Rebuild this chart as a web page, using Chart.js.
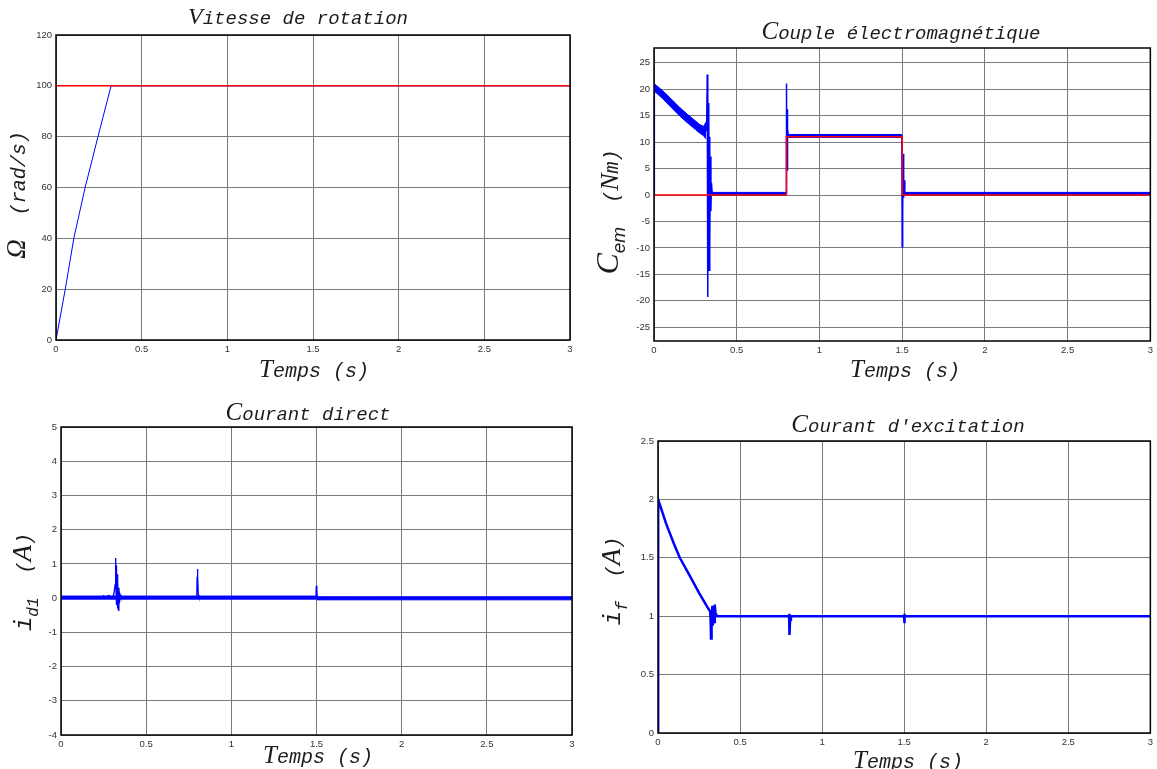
<!DOCTYPE html>
<html>
<head>
<meta charset="utf-8">
<script src="https://cdn.jsdelivr.net/npm/chart.js@4.4.1/dist/chart.umd.min.js"></script>
<style>
  html, body { margin: 0; padding: 0; background: #fff; }
  #wrap { position: relative; width: 1157px; height: 769px; overflow: hidden; background: #fff; }
  #wrap canvas { position: absolute; }
</style>
</head>
<body>
<div id="wrap">
  <canvas id="cSpeed"  width="580" height="385" style="left:0;top:0"></canvas>
  <canvas id="cTorque" width="577" height="385" style="left:580px;top:0"></canvas>
  <canvas id="cId"     width="580" height="384" style="left:0;top:385px"></canvas>
  <canvas id="cIf"     width="577" height="384" style="left:580px;top:385px"></canvas>
</div>
<script>
// ---- Simulation traces (time in s) ----
const timeTickStep = 0.5;

// Rotor speed and its reference (rad/s)
const speedTime      = [0, 0.054, 0.104, 0.17, 0.245, 0.32, 0.33, 3];
const speedValues    = [0, 20, 40, 60, 80, 99.6, 100, 100];
const speedRefTime   = [0, 3];
const speedRefValues = [100, 100];

// Electromagnetic torque (Nm): transient trace, ripple envelopes, load reference
const torqueTime   = [0, 0.001, 0.003, 0.315, 0.318, 0.322, 0.324, 0.326, 0.328, 0.331,
                      0.333, 0.336, 0.338, 0.341, 0.344, 0.347, 0.352, 0.798, 0.800, 0.802,
                      0.804, 0.806, 0.808, 0.812, 1.498, 1.500, 1.503, 1.506, 1.509, 1.512,
                      1.516, 3];
const torqueValues = [0, 21, 20.3, 12.2, 12.5, 22.8, 10, -19.3, 16.0, 17.4,
                      -14.2, 11, -8.8, 7.3, -3, 2.3, 0.3, 0.3, 21.1, 9,
                      16.2, 4.6, 12.5, 11.2, 11.2, -9.8, -3, 7.8, -0.5, 2.8,
                      0.3, 0.3];
const torqueBandTime  = [0.003, 0.05, 0.1, 0.157, 0.2, 0.25, 0.277, 0.3, 0.315, null, 0.352, 0.798, null, 0.812, 1.498, null, 1.516, 3];
const torqueBandUpper = [21.0, 19.8, 18.3, 16.5, 15.3, 14.0, 13.3, 13.0, 13.8, null, 0.5, 0.5, null, 11.45, 11.45, null, 0.5, 0.5];
const torqueBandLower = [19.6, 18.3, 16.7, 14.9, 13.7, 12.4, 11.7, 11.2, 10.6, null, 0.05, 0.05, null, 10.9, 10.9, null, 0.05, 0.05];
const torqueRefTime   = [0, 0.8, 0.8, 1.5, 1.5, 3];
const torqueRefValues = [0, 0, 11, 11, 0, 0];

// Direct-axis current (A)
const idTime   = [0, 0.24, 0.25, 0.26, 0.28, 0.3, 0.31, 0.318, 0.321, 0.323,
                  0.325, 0.327, 0.329, 0.331, 0.334, 0.337, 0.34, 0.343, 0.347, 0.352,
                  0.797, 0.799, 0.801, 0.803, 0.806, 0.81, 1.497, 1.499, 1.502, 1.505, 3];
const idValues = [0.02, 0.02, 0.07, 0.02, 0.08, 0.03, 0.1, 0.4, 1.17, 0.2,
                  0.95, -0.2, 0.7, -0.3, 0.55, -0.35, 0.3, -0.15, 0.1, 0.02,
                  0.02, 0.6, 0.85, 0.7, 0.1, 0.03, 0.03, 0.36, 0.25, -0.02, -0.01];
const idBandTime  = [0, 1.5, null, 1.5, 3];
const idBandUpper = [0.06, 0.06, null, 0.04, 0.04];
const idBandLower = [-0.03, -0.03, null, -0.05, -0.05];

// Field (excitation) current (A)
const ifTime   = [0, 0.001, 0.05, 0.1, 0.133, 0.2, 0.25, 0.3, 0.318, 0.321,
                  0.323, 0.325, 0.328, 0.331, 0.334, 0.338, 0.342, 0.346, 0.35, 0.36,
                  0.799, 0.800, 0.802, 0.805, 0.81, 1.499, 1.5, 1.502, 1.505, 3];
const ifValues = [0, 2.0, 1.79, 1.61, 1.5, 1.33, 1.2, 1.08, 1.04, 0.95,
                  0.81, 1.05, 0.9, 1.09, 0.92, 1.06, 0.95, 1.1, 1.03, 1.0,
                  1.0, 1.02, 0.84, 0.97, 1.0, 1.0, 1.02, 0.94, 1.0, 1.0];

// ---- Styling ----
const BLUE = '#0000ff';
const RED = '#ff0000';
const GRID = '#7a7a7a';
const INK = '#1c1c1c';
const MONO = '"Liberation Mono", "DejaVu Sans Mono", monospace';
const SERIF = '"Liberation Serif", "DejaVu Serif", serif';
const SANS = '"Liberation Sans", Arial, sans-serif';

const pts = (xs, ys) => xs.map((x, i) => ({ x, y: ys[i] }));
// Plain numeric tick text: 1 instead of 1.0
const tickText = v => String(Math.round(v * 100) / 100);

// Split envelope arrays at null separators into upper/lower point runs
function bandRuns(ts, up, lo) {
  const runs = [];
  let cur = { upper: [], lower: [] };
  ts.forEach((t, i) => {
    if (t === null) { if (cur.upper.length) runs.push(cur); cur = { upper: [], lower: [] }; return; }
    cur.upper.push({ x: t, y: up[i] });
    cur.lower.push({ x: t, y: lo[i] });
  });
  if (cur.upper.length) runs.push(cur);
  return runs;
}

// Mixed-font text run, optionally rotated for vertical axis labels
function drawRich(ctx, segs, x, y, rotate) {
  ctx.save();
  ctx.translate(x, y);
  if (rotate) ctx.rotate(-Math.PI / 2);
  ctx.textBaseline = 'alphabetic';
  ctx.textAlign = 'left';
  let total = 0;
  const widths = segs.map(s => { ctx.font = s.font; const w = ctx.measureText(s.text).width; total += w; return w; });
  let cx = -total / 2;
  segs.forEach((s, i) => {
    ctx.font = s.font;
    ctx.fillStyle = INK;
    ctx.fillText(s.text, cx, s.dy || 0);
    cx += widths[i];
  });
  ctx.restore();
}

const panelText = {
  id: 'panelText',
  afterDraw(chart, args, opts) {
    const ctx = chart.ctx;
    const a = chart.chartArea;
    ctx.save();
    ctx.strokeStyle = '#000';
    ctx.lineWidth = 1.5;
    ctx.strokeRect(a.left, a.top, a.right - a.left, a.bottom - a.top);
    ctx.restore();
    if (opts.title) drawRich(ctx, opts.title.segs, opts.title.x, opts.title.y, false);
    if (opts.xlabel) drawRich(ctx, opts.xlabel.segs, opts.xlabel.x, opts.xlabel.y, false);
    if (opts.ylabel) drawRich(ctx, opts.ylabel.segs, opts.ylabel.x, opts.ylabel.y, true);
  }
};

const seg = (text, font, dy) => ({ text, font, dy });
const tempsLabel = [seg('T', `italic 25px ${SERIF}`), seg('emps (s)', `italic 20px ${MONO}`)];

function panel(id, cfg) {
  const datasets = [];
  (cfg.bands || []).forEach(b => {
    datasets.push({ data: b.upper, borderColor: BLUE, backgroundColor: BLUE, borderWidth: 1, fill: '+1', pointRadius: 0, order: 3 });
    datasets.push({ data: b.lower, borderColor: BLUE, borderWidth: 1, fill: false, pointRadius: 0, order: 3 });
  });
  cfg.lines.forEach(l => datasets.push({ data: l.data, borderColor: l.color, borderWidth: l.width, fill: false, pointRadius: 0, order: l.order }));

  const tickFont = { family: SANS, size: 9.5 };
  const { left, top, right, bottom } = cfg.area;
  new Chart(document.getElementById(id), {
    type: 'line',
    data: { datasets },
    options: {
      responsive: false,
      animation: false,
      devicePixelRatio: 1,
      events: [],
      layout: { padding: { left: 0, top, right, bottom: 0 } },
      elements: { line: { tension: 0 } },
      plugins: { legend: { display: false }, tooltip: { enabled: false }, panelText: cfg.text },
      scales: {
        x: {
          type: 'linear', min: 0, max: 3,
          afterFit: s => { s.height = bottom; },
          ticks: { stepSize: timeTickStep, padding: 4, font: tickFont, color: '#333', maxRotation: 0, autoSkip: false, callback: tickText },
          grid: { color: GRID, lineWidth: 1, drawTicks: false },
          border: { display: false }
        },
        y: {
          type: 'linear', min: cfg.yMin, max: cfg.yMax,
          afterFit: s => { s.width = left; },
          ticks: { stepSize: cfg.yStep, padding: 4, includeBounds: false, font: tickFont, color: '#333', autoSkip: false, callback: tickText },
          grid: { color: GRID, lineWidth: 1, drawTicks: false },
          border: { display: false }
        }
      }
    },
    plugins: [panelText]
  });
}

panel('cSpeed', {
  area: { left: 56, top: 35, right: 10, bottom: 45 },
  yMin: 0, yMax: 120, yStep: 20,
  lines: [
    { data: pts(speedTime, speedValues), color: BLUE, width: 1, order: 2 },
    { data: pts(speedRefTime, speedRefValues), color: RED, width: 1.5, order: 1 }
  ],
  text: {
    title: { x: 298, y: 24, segs: [seg('V', `italic 24px ${SERIF}`), seg('itesse de rotation', `italic 19px ${MONO}`)] },
    xlabel: { x: 314, y: 377, segs: tempsLabel },
    ylabel: { x: 25, y: 195, segs: [seg('Ω', `italic 27px ${SERIF}`), seg('  (rad/s)', `italic 20px ${MONO}`)] }
  }
});

panel('cTorque', {
  area: { left: 74, top: 48, right: 5, bottom: 44 },
  yMin: -27.6, yMax: 27.8, yStep: 5,
  bands: bandRuns(torqueBandTime, torqueBandUpper, torqueBandLower),
  lines: [
    { data: pts(torqueTime, torqueValues), color: BLUE, width: 1.5, order: 2 },
    { data: pts(torqueRefTime, torqueRefValues), color: RED, width: 1.5, order: 1 }
  ],
  text: {
    title: { x: 321, y: 39, segs: [seg('C', `italic 25px ${SERIF}`), seg('ouple électromagnétique', `italic 19px ${MONO}`)] },
    xlabel: { x: 325, y: 377, segs: tempsLabel },
    ylabel: { x: 38, y: 212, segs: [
      seg('C', `italic 32px ${SERIF}`), seg('em', `italic 19px ${SANS}`, 7),
      seg('  (', `italic 20px ${MONO}`), seg('N', `italic 26px ${SERIF}`), seg('m', `italic 20px ${MONO}`), seg(')', `italic 20px ${MONO}`)
    ] }
  }
});

panel('cId', {
  area: { left: 61, top: 42, right: 8, bottom: 34 },
  yMin: -4, yMax: 5, yStep: 1,
  bands: bandRuns(idBandTime, idBandUpper, idBandLower),
  lines: [
    { data: pts(idTime, idValues), color: BLUE, width: 1.3, order: 2 }
  ],
  text: {
    title: { x: 308, y: 35, segs: [seg('C', `italic 25px ${SERIF}`), seg('ourant direct', `italic 19px ${MONO}`)] },
    xlabel: { x: 318, y: 378, segs: tempsLabel },
    ylabel: { x: 31, y: 197, segs: [
      seg('i', `italic 24px ${MONO}`), seg('d1', `italic 16px ${MONO}`, 7),
      seg('  (', `italic 20px ${MONO}`), seg('A', `italic 27px ${SERIF}`), seg(')', `italic 20px ${MONO}`)
    ] }
  }
});

panel('cIf', {
  area: { left: 78, top: 56, right: 3, bottom: 36 },
  yMin: 0, yMax: 2.5, yStep: 0.5,
  lines: [
    { data: pts(ifTime, ifValues), color: BLUE, width: 2.5, order: 2 }
  ],
  text: {
    title: { x: 328, y: 47, segs: [seg('C', `italic 25px ${SERIF}`), seg("ourant d'excitation", `italic 19px ${MONO}`)] },
    xlabel: { x: 328, y: 383, segs: tempsLabel },
    ylabel: { x: 40, y: 196, segs: [
      seg('i', `italic 24px ${MONO}`), seg('f', `italic 16px ${MONO}`, 7),
      seg('  (', `italic 20px ${MONO}`), seg('A', `italic 27px ${SERIF}`), seg(')', `italic 20px ${MONO}`)
    ] }
  }
});
</script>
</body>
</html>
